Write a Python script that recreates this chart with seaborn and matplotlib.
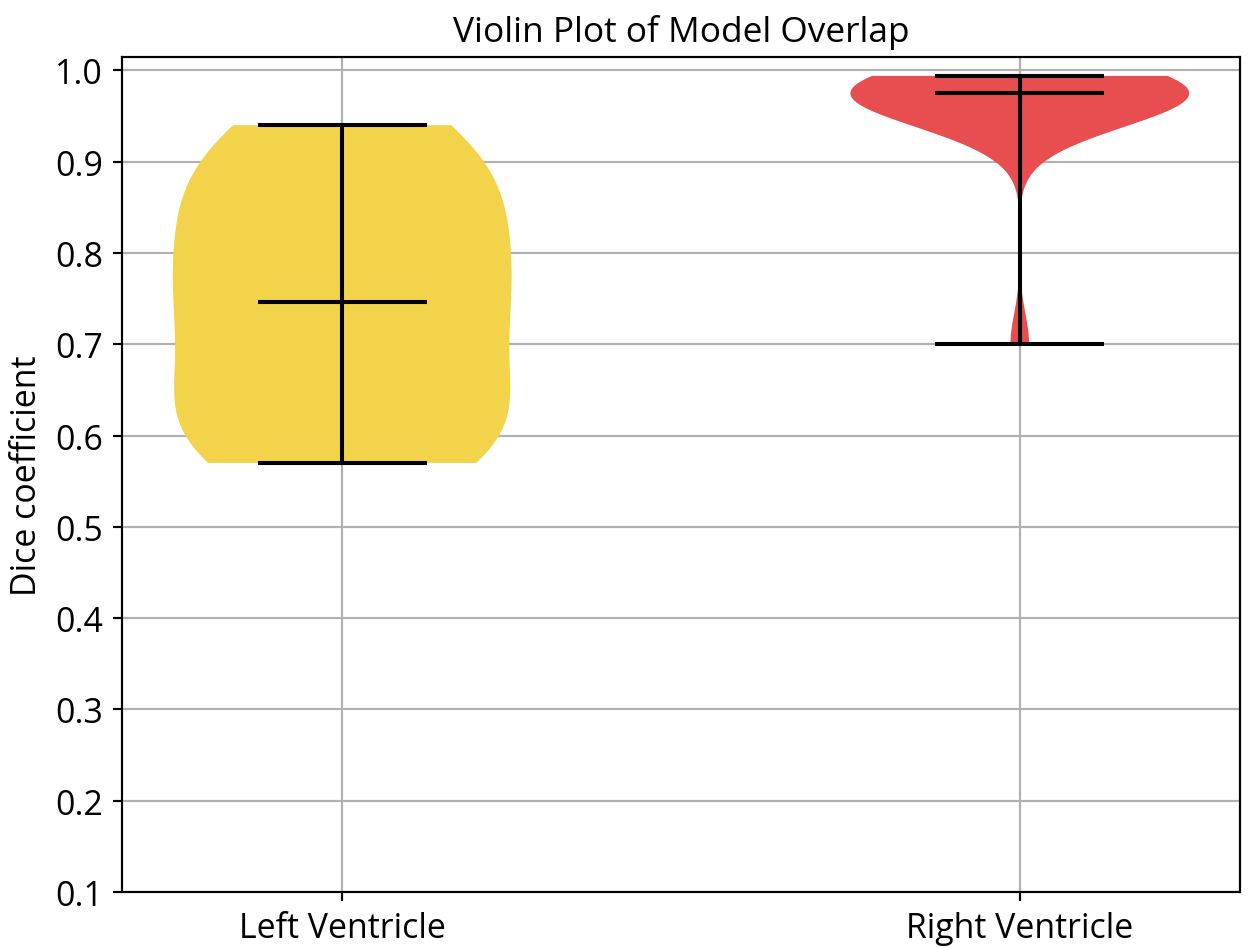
import numpy as np
import pandas as pd
import matplotlib
matplotlib.use("Agg")
import matplotlib.pyplot as plt
import seaborn as sns

categories = ["Left Ventricle", "Right Ventricle"]
left_dice = [0.57, 0.575, 0.58, 0.59, 0.61, 0.63, 0.65, 0.68, 0.71, 0.74, 0.746, 0.752,
             0.78, 0.81, 0.83, 0.85, 0.87, 0.89, 0.915, 0.935, 0.94]
right_dice = [0.70, 0.93, 0.945, 0.955, 0.96, 0.965, 0.968, 0.97, 0.972, 0.973, 0.975,
              0.977, 0.979, 0.98, 0.982, 0.984, 0.986, 0.988, 0.99, 0.992, 0.994]
colors = ["#F3D349", "#E84D4F"]
yticks = [0.1, 0.2, 0.3, 0.4, 0.5, 0.6, 0.7, 0.8, 0.9, 1.0]

plt.rcParams["font.family"] = ["Open Sans", "DejaVu Sans"]

df = pd.DataFrame({
    "region": [categories[0]] * len(left_dice) + [categories[1]] * len(right_dice),
    "dice": left_dice + right_dice,
})

fig = plt.figure(figsize=(1250 / 195, 949 / 195), dpi=195)
ax = fig.add_axes([0.0976, 0.059, 0.8944, 0.8799])

sns.violinplot(data=df, x="region", y="dice", hue="region", palette=colors,
               order=categories, hue_order=categories, cut=0, inner=None,
               width=0.5, density_norm="width", linewidth=0, saturation=1,
               legend=False, ax=ax)
for c in ax.collections:
    c.set_edgecolor("none")

groups = [left_dice, right_dice]
for i, vals in enumerate(groups):
    lo, hi, med = min(vals), max(vals), float(np.median(vals))
    ax.hlines([lo, hi, med], i - 0.125, i + 0.125, colors="black", lw=1.5, zorder=3)
    ax.vlines(i, lo, hi, colors="black", lw=1.5, zorder=3)

ax.set_xlim(-0.325, 1.325)
ax.set_ylim(0.1, 1.0147)
ax.set_yticks(yticks)
ax.grid(True, color="#b0b0b0", lw=0.8)
ax.set_axisbelow(True)
for s in ax.spines.values():
    s.set_visible(True)
    s.set_color("black")
ax.set_xlabel("")
ax.set_ylabel("Dice coefficient", fontsize=12.5)
ax.set_title("Violin Plot of Model Overlap", fontsize=13, pad=6)
ax.tick_params(labelsize=12.5)

fig.savefig("out.png", dpi=195)
